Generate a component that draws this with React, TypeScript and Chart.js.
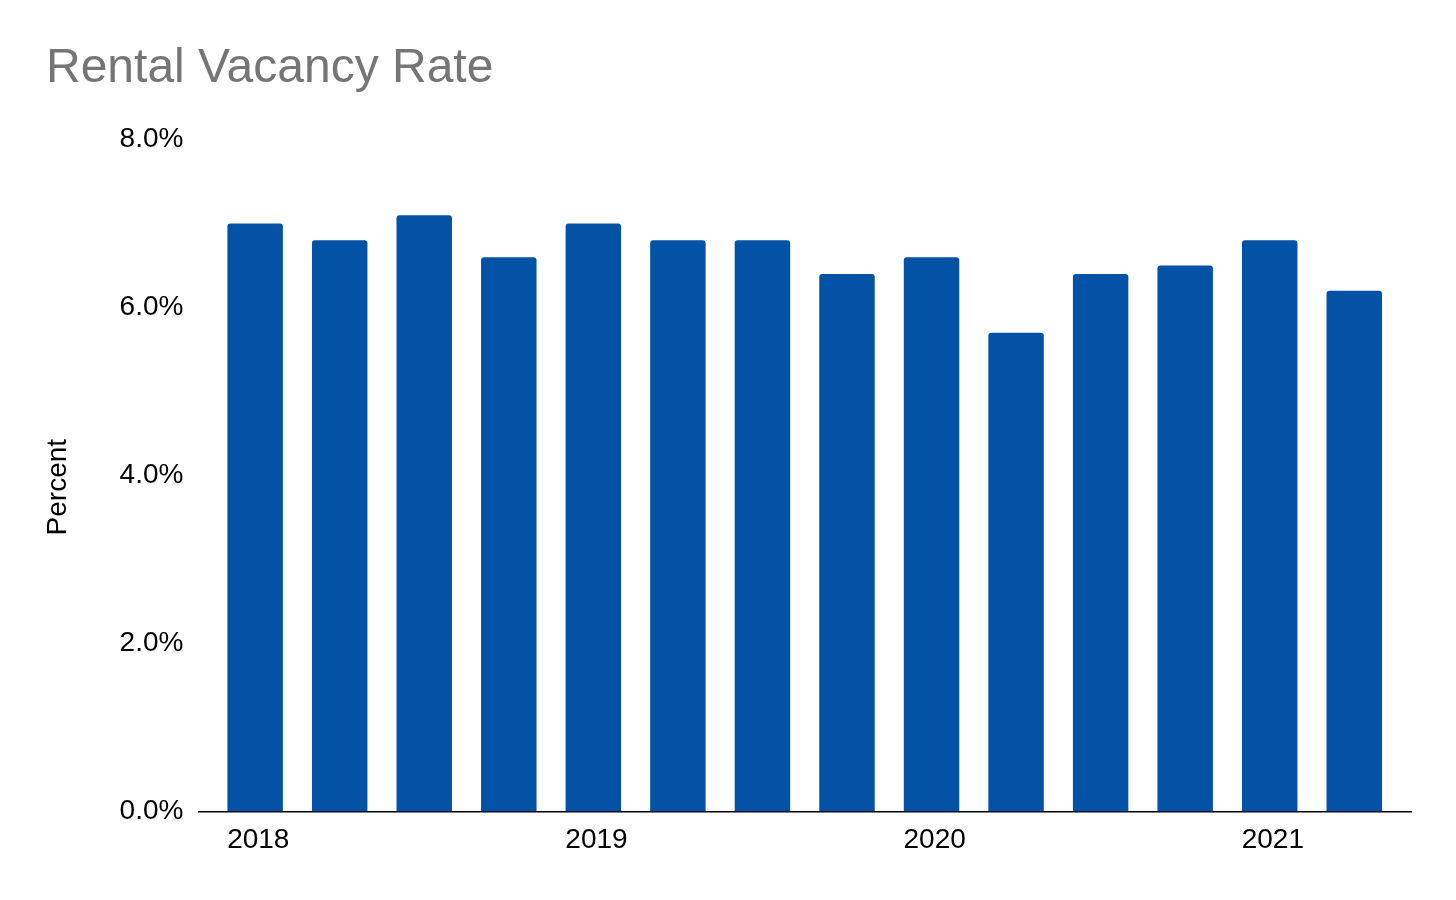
import React, { useEffect, useRef } from "react";
import { Chart, registerables } from "chart.js";

Chart.register(...registerables);

const quarters = [
  "2018 Q1", "2018 Q2", "2018 Q3", "2018 Q4",
  "2019 Q1", "2019 Q2", "2019 Q3", "2019 Q4",
  "2020 Q1", "2020 Q2", "2020 Q3", "2020 Q4",
  "2021 Q1", "2021 Q2",
];
const vacancyRate = [7.0, 6.8, 7.1, 6.6, 7.0, 6.8, 6.8, 6.4, 6.6, 5.7, 6.4, 6.5, 6.8, 6.2];
const yearTickIndex = [0, 4, 8, 12];
const yearLabels = ["2018", "2019", "2020", "2021"];
const yTicks = [0, 2, 4, 6, 8];

const FONT = "'Liberation Sans', Arial, sans-serif";

export default function App() {
  const ref = useRef<HTMLCanvasElement | null>(null);

  useEffect(() => {
    document.body.style.margin = "0";
    const canvas = ref.current;
    if (!canvas) return;
    const chart = new Chart(canvas, {
      type: "bar",
      data: {
        datasets: [
          {
            label: "Rental Vacancy Rate",
            data: vacancyRate.map((v, i) => ({ x: i, y: v })),
            backgroundColor: "#0352A6",
            borderRadius: 3,
            borderSkipped: "start",
            barPercentage: 0.656,
            categoryPercentage: 1,
          },
        ],
      },
      options: {
        responsive: false,
        animation: false,
        devicePixelRatio: 1,
        layout: { padding: { left: 46, right: 45, top: 0, bottom: 31 } },
        plugins: {
          legend: { display: false },
          tooltip: { enabled: false },
          title: {
            display: true,
            text: "Rental Vacancy Rate",
            align: "start",
            color: "#757575",
            font: { family: FONT, size: 48, weight: "normal" },
            padding: { top: 40, bottom: 42 },
          },
        },
        scales: {
          x: {
            type: "linear",
            min: -0.671,
            max: 13.671,
            offset: false,
            z: 1,
            grid: { display: false, drawTicks: false },
            border: { display: true, color: "#000000", width: 1.5 },
            afterBuildTicks: (scale: any) => {
              scale.ticks = yearTickIndex.map((v) => ({ value: v }));
            },
            ticks: {
              autoSkip: false,
              maxRotation: 0,
              align: "start",
              labelOffset: -28,
              padding: 12,
              color: "#000000",
              font: { family: FONT, size: 28 },
              callback: (value: any) => {
                const idx = yearTickIndex.indexOf(Number(value));
                return idx >= 0 ? yearLabels[idx] : "";
              },
            },
          },
          y: {
            min: 0,
            max: 8,
            grid: { display: false, drawTicks: false },
            border: { display: false },
            afterBuildTicks: (scale: any) => {
              scale.ticks = yTicks.map((v) => ({ value: v }));
            },
            ticks: {
              padding: 15,
              color: "#000000",
              font: { family: FONT, size: 28 },
              callback: (value: any) => Number(value).toFixed(1) + "%",
            },
            title: {
              display: true,
              text: "Percent   ",
              color: "#000000",
              font: { family: FONT, size: 28 },
              padding: { top: -5, bottom: 30 },
            },
          },
        },
      },
    });
    return () => chart.destroy();
  }, []);

  return (
    <div style={{ width: 1456, height: 900, background: "#ffffff" }}>
      <canvas ref={ref} width={1456} height={900} style={{ display: "block" }} />
    </div>
  );
}
